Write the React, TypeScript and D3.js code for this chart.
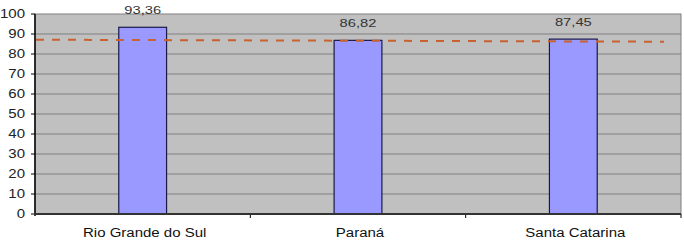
import React from "react";
import * as d3 from "d3";

const categories = ["Rio Grande do Sul", "Paraná", "Santa Catarina"];
const values = [93.36, 86.82, 87.45];
const valueLabels = ["93,36", "86,82", "87,45"];
const yTicks = [0, 10, 20, 30, 40, 50, 60, 70, 80, 90, 100];
const refLine = [87.15, 86.15];

const W = 684;
const H = 240;
const margin = { left: 35, right: 3, top: 14, bottom: 26 };

export default function App() {
  const x0 = margin.left;
  const x1 = 681;
  const y0 = H - margin.bottom;
  const y1 = margin.top;
  const x = d3.scaleBand<string>().domain(categories).range([x0, x1]).paddingInner(0).paddingOuter(0);
  const y = d3.scaleLinear().domain([0, 100]).range([y0, y1]);
  const bw = x.bandwidth() * 0.222;
  const font = "'Liberation Sans', Arial, sans-serif";
  const refX = d3.scaleLinear().domain([0, 1]).range([36, 664]);

  return (
    <svg width={W} height={H} style={{ position: "absolute", left: 0, top: 0 }}>
      <rect x={0} y={0} width={W} height={H} fill="#fff" />
      <rect x={x0} y={y1} width={x1 - x0} height={y0 - y1} fill="#c0c0c0" stroke="#808080" strokeWidth={1} />
      {yTicks.map((t) => (
        <g key={t}>
          {t > 0 && t < 100 && (
            <line x1={x0} x2={x1} y1={y(t)} y2={y(t)} stroke="#808080" strokeWidth={1} />
          )}
          <line x1={x0 - 4} x2={x0} y1={y(t)} y2={y(t)} stroke="#000" strokeWidth={1} />
          <text
            transform={`translate(${x0 - 10},${y(t)}) scale(1.25,1)`}
            dy="0.36em"
            textAnchor="end"
            fontFamily={font}
            fontSize={12}
            fill="#222"
          >
            {t}
          </text>
        </g>
      ))}
      {categories.map((c, i) => {
        const cx = (x(c) as number) + x.bandwidth() / 2;
        return (
          <g key={c}>
            <rect
              x={cx - bw / 2}
              y={y(values[i])}
              width={bw}
              height={y0 - y(values[i])}
              fill="#9999ff"
              stroke="#1a1a4a"
              strokeWidth={1.2}
            />
            <text
              transform={`translate(${cx},${y(values[i]) - 13}) scale(1.28,1)`}
              textAnchor="middle"
              fontFamily={font}
              fontSize={11.5}
              fill="#333"
            >
              {valueLabels[i]}
            </text>
            <text
              transform={`translate(${cx + 2},237) scale(1.25,1)`}
              textAnchor="middle"
              fontFamily={font}
              fontSize={12}
              fill="#111"
            >
              {c}
            </text>
          </g>
        );
      })}
      {categories.slice(1).map((c) => (
        <line key={c} x1={x(c) as number} x2={x(c) as number} y1={y0} y2={y0 + 4} stroke="#000" />
      ))}
      <line x1={x1} x2={x1} y1={y0} y2={y0 + 4} stroke="#000" />
      <line x1={x0} x2={x0} y1={y1} y2={y0 + 2} stroke="#000" strokeWidth={1.5} />
      <line x1={x0 - 1} x2={x1} y1={y0} y2={y0} stroke="#333" strokeWidth={2} />
      <line
        x1={refX(0)}
        x2={refX(1)}
        y1={y(refLine[0])}
        y2={y(refLine[1])}
        stroke="#c8622e"
        strokeWidth={2}
        strokeDasharray="8 8"
      />
    </svg>
  );
}
